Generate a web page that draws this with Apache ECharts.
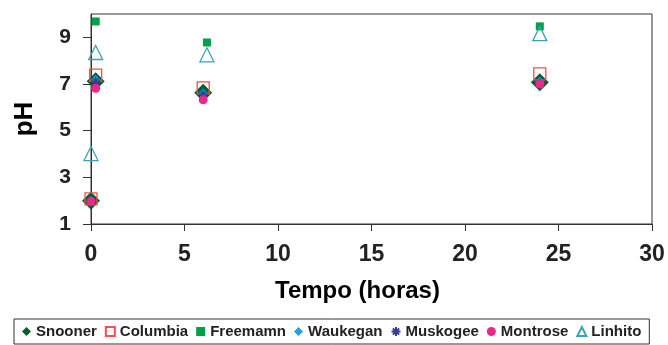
<!DOCTYPE html>
<html><head><meta charset="utf-8">
<script src="https://cdn.jsdelivr.net/npm/echarts@6/dist/echarts.min.js"></script>
<style>html,body{margin:0;padding:0;background:#fff}#c{width:668px;height:345px}</style>
</head><body><div id="c"></div>
<script>
const seriesNames = ['Snooner','Columbia','Freemamn','Waukegan','Muskogee','Montrose','Linhito'];
const snooner  = [[0,2.0],[0.25,7.12],[6,6.62],[24,7.08]];
const columbia = [[0,2.08],[0.25,7.38],[6,6.83],[24,7.43]];
const freemamn = [[0.25,9.68],[6.2,8.78],[24,9.47]];
const waukegan = [[0,2.02],[0.25,7.2],[6,6.62],[24,7.12]];
const muskogee = [[0,2.0],[0.25,7.12],[6,6.58],[24,7.05]];
const montrose = [[0,1.97],[0.25,6.82],[6,6.32],[24,7.0]];
const linhito  = [[0,4.02],[0.25,8.35],[6.2,8.25],[24,9.16]];
const xTicks = [0,5,10,15,20,25,30];
const yTicks = [1,3,5,7,9];

const star = 'path://M0,5L10,5M5,0L5,10M1.5,1.5L8.5,8.5M8.5,1.5L1.5,8.5';
const styles = [
  {data:snooner, symbol:'diamond', size:18, color:'#0d5a2c', fill:true},
  {data:columbia, symbol:'rect', size:12, color:'#f05050', fill:false},
  {data:freemamn, symbol:'rect', size:8, color:'#00a04a', fill:true},
  {data:waukegan, symbol:'diamond', size:9, color:'#1aa3e8', fill:true},
  {data:muskogee, symbol:star, size:9, color:'#3a3a99', fill:false},
  {data:montrose, symbol:'circle', size:9, color:'#e8288a', fill:true},
  {data:linhito, symbol:'triangle', size:14, color:'#3aa3b3', fill:false}
];
const legendIcons = ['diamond','rect','rect','diamond',star,'circle','triangle'];

const series = styles.map((s,i)=>({
  name: seriesNames[i], type:'scatter', data:s.data, symbol:s.symbol, symbolSize:s.size,
  itemStyle: s.fill ? {color:s.color, opacity:1} : {color:'rgba(255,255,255,0)', borderColor:s.color, borderWidth:1.3, opacity:1},
  emphasis:{disabled:true}, z: i===0?1:2+i
}));

const chart = echarts.init(document.getElementById('c'), null, {renderer:'canvas'});
chart.setOption({
  animation:false,
  textStyle:{fontFamily:'Liberation Sans, Arial, sans-serif'},
  grid:{left:91, right:16, top:14, bottom:121, show:true, borderColor:'#333', borderWidth:1},
  xAxis:{type:'value', min:0, max:30, interval:5,
    axisLine:{show:true, lineStyle:{color:'#333', width:1}},
    axisTick:{show:true, length:7, lineStyle:{color:'#333'}, customValues:xTicks},
    axisLabel:{fontSize:23, fontWeight:'bold', color:'#222', margin:19, customValues:xTicks},
    splitLine:{show:false},
    name:'Tempo (horas)', nameLocation:'middle', nameGap:55,
    nameTextStyle:{fontSize:24, fontWeight:'bold', color:'#000', padding:[0,28,0,0]}},
  yAxis:{type:'value', min:1, max:10,
    axisLine:{show:true, lineStyle:{color:'#333', width:1}},
    axisTick:{show:true, length:8, lineStyle:{color:'#333'}, customValues:yTicks},
    axisLabel:{fontSize:21, fontWeight:'bold', color:'#222', margin:20, customValues:yTicks},
    splitLine:{show:false},
    name:'pH', nameLocation:'middle', nameGap:53, nameRotate:90,
    nameTextStyle:{fontSize:26, fontWeight:'bold', color:'#000'}},
  legend:{left:14, bottom:1, orient:'horizontal',
    data: seriesNames.map((n,i)=>({name:n, icon:legendIcons[i]})),
    itemWidth:9, itemHeight:9, itemGap:8,
    borderColor:'#333', borderWidth:1, borderRadius:0, padding:[5,8,5,8],
    textStyle:{fontSize:15, fontWeight:'bold', color:'#222', padding:[0,0,0,0]},
    selectedMode:false},
  series: series
});
</script></body></html>
